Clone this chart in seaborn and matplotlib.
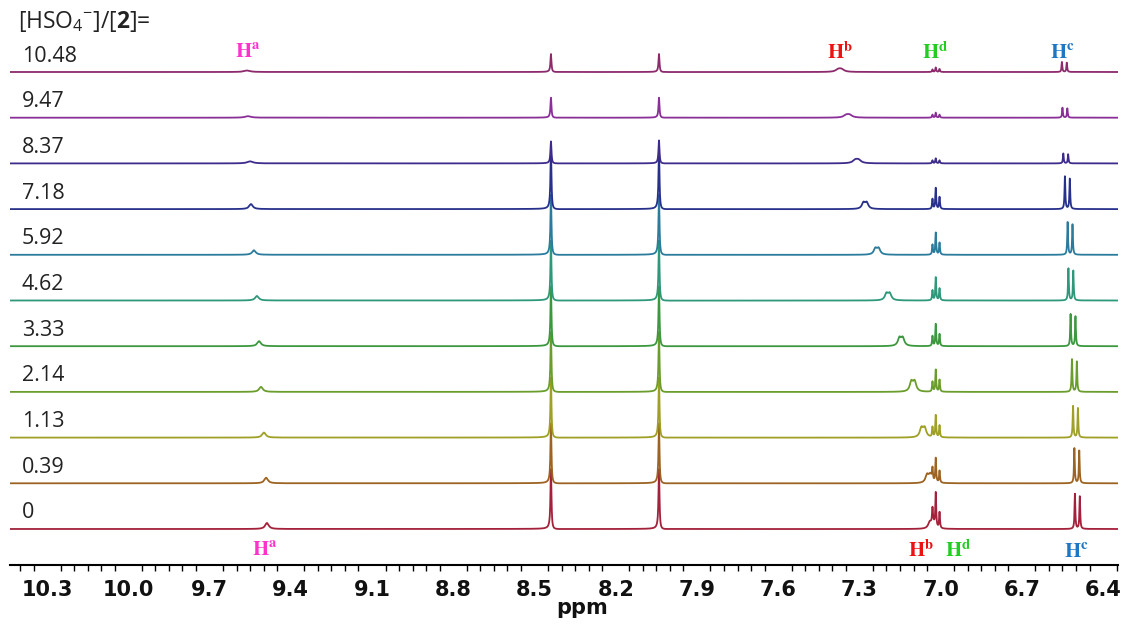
import numpy as np
import pandas as pd
import matplotlib
matplotlib.use("Agg")
import matplotlib.pyplot as plt
import seaborn as sns
from matplotlib.ticker import MultipleLocator, FixedLocator
from matplotlib.transforms import blended_transform_factory

# ---- titration series: [HSO4-]/[2] ratio for each stacked spectrum (bottom -> top)
ratios = ["0", "0.39", "1.13", "2.14", "3.33", "4.62", "5.92", "7.18", "8.37", "9.47", "10.48"]
trace_colors = ["#a3213a", "#9c6322", "#9fa025", "#6a9d2b", "#3c983f", "#2e987a",
                "#2b7b9d", "#27318b", "#3e2b8b", "#8a2f98", "#8c2a6c"]

# Ha (broad NH) shift and height
ha_shift = [9.488, 9.491, 9.499, 9.510, 9.517, 9.525, 9.536, 9.547, 9.550, 9.558, 9.561]
ha_height = [6.0, 5.5, 5.0, 5.0, 5.0, 4.5, 4.5, 5.0, 2.0, 1.5, 1.5]

# Hb (broad aromatic) shift and height
hb_shift = [7.034, 7.044, 7.065, 7.102, 7.146, 7.194, 7.235, 7.279, 7.309, 7.342, 7.372]
hb_height = [10.0, 13.0, 15.0, 16.0, 13.0, 11.0, 10.0, 10.0, 5.0, 4.0, 4.0]

# Hd multiplet (three lines) heights
hd_lines = [7.030, 7.018, 7.004]
hd_height = [[14, 34, 16], [12, 24, 12], [10, 22, 12], [10, 22, 12], [10, 22, 12],
             [10, 23, 12], [10, 22, 12], [10, 21, 12], [3, 5, 3], [3, 5, 3], [2.5, 4.5, 3]]

# Hc doublet centre and height
hc_shift = [6.495, 6.497, 6.502, 6.506, 6.511, 6.519, 6.522, 6.532, 6.538, 6.541, 6.543]
hc_height = [35, 35, 32, 33, 32, 32, 33, 33, 10, 10, 10]
hc_split = 0.018

# two intense reference singlets
big_shift = [8.439, 8.040]
big_height = [[60, 60], [60, 60], [60, 60], [60, 60], [60, 60], [60, 60],
              [60, 60], [60, 60], [22, 23], [20, 20], [18, 18]]

xtick_values = [10.3, 10.0, 9.7, 9.4, 9.1, 8.8, 8.5, 8.2, 7.9, 7.6, 7.3, 7.0, 6.7, 6.4]


def lorentz(x, x0, h, w):
    return h * w ** 2 / ((x - x0) ** 2 + w ** 2)


def dispersion(x, x0, h, w):
    return h * w * (x - x0) / ((x - x0) ** 2 + w ** 2)


ppm = np.arange(6.340, 10.440, 0.0004)
row_gap = 45.7
base0 = 36.0

frames = []
for i, r in enumerate(ratios):
    s = np.zeros_like(ppm)
    w_ha = 0.008 if i < 8 else 0.013
    s += lorentz(ppm, ha_shift[i], ha_height[i], w_ha)
    w_hb = 0.007 if i < 8 else 0.011
    s += lorentz(ppm, hb_shift[i] + 0.006, 0.6 * hb_height[i], w_hb)
    s += lorentz(ppm, hb_shift[i] - 0.006, 0.6 * hb_height[i], w_hb)
    for x0, h in zip(hd_lines, hd_height[i]):
        s += lorentz(ppm, x0, h, 0.0018)
    s += lorentz(ppm, hc_shift[i] + hc_split / 2, hc_height[i], 0.0017)
    s += lorentz(ppm, hc_shift[i] - hc_split / 2, 0.93 * hc_height[i], 0.0017)
    for x0, h in zip(big_shift, big_height[i]):
        s += lorentz(ppm, x0, h, 0.0022)
        s += dispersion(ppm, x0, 0.08 * h, 0.0022)
    frames.append(pd.DataFrame({"ppm": ppm, "signal": s + base0 + i * row_gap, "ratio": r}))
df = pd.concat(frames, ignore_index=True)

sns.set_theme(style="white")
plt.rcParams["font.family"] = ["DejaVu Sans"]
plt.rcParams["mathtext.fontset"] = "custom"
plt.rcParams["mathtext.rm"] = "Open Sans"
plt.rcParams["mathtext.bf"] = "Open Sans:bold"
plt.rcParams["mathtext.it"] = "Open Sans:italic"

fig = plt.figure(figsize=(11.23, 6.24), dpi=100)
ax = fig.add_axes([10 / 1123, 59 / 624, 1108 / 1123, 565 / 624])

sns.lineplot(data=df, x="ppm", y="signal", hue="ratio", hue_order=ratios,
             palette=trace_colors, estimator=None, sort=False, legend=False,
             linewidth=1.3, ax=ax)

ax.set_xlim(10.437, 6.345)
ax.set_ylim(0, 565)
for side in ("top", "right", "left"):
    ax.spines[side].set_visible(False)
ax.spines["bottom"].set_color("black")
ax.spines["bottom"].set_linewidth(1.5)
ax.set_yticks([])
ax.set_ylabel("")
ax.set_xlabel("")
ax.xaxis.set_major_locator(FixedLocator(xtick_values))
ax.set_xticklabels([f"{v:.1f}" for v in xtick_values])
ax.xaxis.set_minor_locator(MultipleLocator(0.05))
ax.tick_params(axis="x", which="major", length=5, width=1.2, direction="out",
               color="black", pad=6, labelsize=15, labelcolor="#111111")
ax.tick_params(axis="x", which="minor", length=4, width=1.0, direction="out",
               color="black", bottom=True)
for lab in ax.get_xticklabels():
    lab.set_fontweight("bold")

ax.text(0.516, -0.076, "ppm", transform=ax.transAxes, ha="center", va="center",
        fontsize=15, fontweight="bold", color="#111111")

# ratio labels above each trace
lbl_tr = blended_transform_factory(ax.transAxes, ax.transData)
for i, r in enumerate(ratios):
    ax.text(0.0108, base0 + i * row_gap + 16, r, transform=lbl_tr, ha="left",
            va="center", fontsize=15.5, family="Open Sans", color="#222222")

ax.text(0.0072, 543, r"[HSO$_4$$^{-}$]/[$\mathbf{2}$]=", transform=lbl_tr,
        ha="left", va="center", fontsize=16.5, family="Open Sans", color="#222222",
        clip_on=False)

# proton assignments
proton_labels = [
    ("a", "#ff33cc", 9.560, 513), ("b", "#ee1111", 7.372, 513),
    ("d", "#22cc22", 7.021, 513), ("c", "#1f77c4", 6.552, 512),
    ("a", "#ff33cc", 9.495, 15), ("b", "#ee1111", 7.073, 15),
    ("d", "#22cc22", 6.936, 15), ("c", "#1f77c4", 6.497, 13),
]
for sup, col, x, y in proton_labels:
    ax.text(x, y, r"$\mathbf{H}^{\mathbf{%s}}$" % sup, ha="center", va="center",
            fontsize=15, color=col, math_fontfamily="stix", clip_on=False)

fig.savefig("out.png", dpi=100, facecolor="white")
